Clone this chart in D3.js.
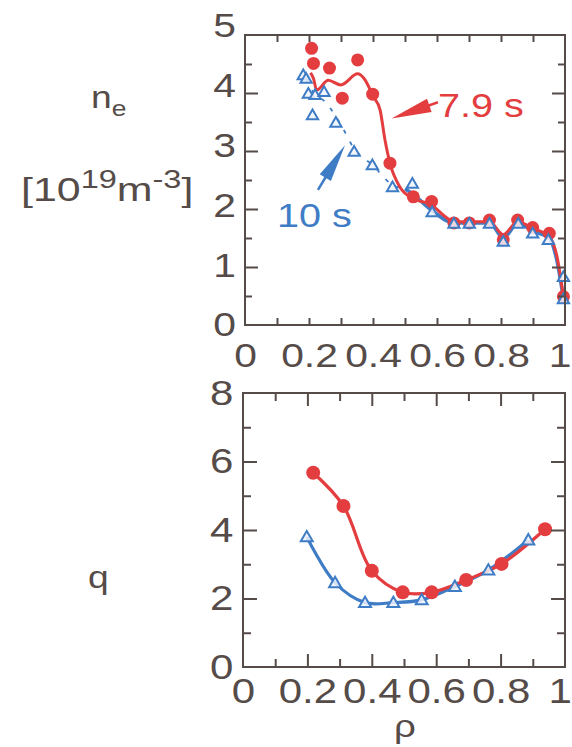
<!DOCTYPE html>
<html>
<head>
<meta charset="utf-8">
<script src="https://cdn.jsdelivr.net/npm/d3@7/dist/d3.min.js"></script>
<style>
  html, body { margin: 0; padding: 0; background: #ffffff; }
  svg { display: block; }
  text { font-family: "Liberation Sans", Arial, Helvetica, sans-serif; }
</style>
</head>
<body>
<svg id="chart" width="572" height="747"></svg>
<script>
// ---------------- data ----------------
// top panel: electron density n_e [10^19 m^-3] vs rho
const rhoNeRed = [0.208, 0.214, 0.264, 0.304, 0.352, 0.399, 0.453, 0.526, 0.583, 0.653, 0.701, 0.764, 0.807, 0.852, 0.899, 0.951, 0.995];
const neRed    = [4.77, 4.51, 4.43, 3.91, 4.57, 3.98, 2.79, 2.21, 2.13, 1.76, 1.76, 1.81, 1.47, 1.81, 1.68, 1.58, 0.49];

const rhoNeBlue = [0.182, 0.191, 0.198, 0.219, 0.247, 0.211, 0.284, 0.341, 0.398, 0.461, 0.523, 0.585, 0.653, 0.701, 0.764, 0.807, 0.854, 0.899, 0.948, 0.995, 0.995];
const neBlue    = [4.31, 4.25, 3.99, 3.97, 4.02, 3.62, 3.49, 2.99, 2.76, 2.38, 2.44, 1.95, 1.75, 1.75, 1.75, 1.44, 1.75, 1.58, 1.47, 0.83, 0.45];

// fitted curves (top panel)
const rhoNeRedFit = [0.205, 0.214, 0.224, 0.26, 0.30, 0.352, 0.372, 0.401, 0.422, 0.4375, 0.453, 0.484, 0.526, 0.583, 0.625, 0.653, 0.701, 0.764, 0.807, 0.852, 0.899, 0.951, 0.975, 0.995];
const neRedFit    = [4.35, 4.25, 4.05, 4.22, 4.14, 4.33, 4.25, 3.94, 3.71, 3.19, 2.79, 2.38, 2.18, 2.07, 1.87, 1.78, 1.78, 1.78, 1.56, 1.78, 1.67, 1.52, 1.18, 0.49];

const rhoNeBlueCoreFit = [0.19, 0.215, 0.25, 0.30, 0.34, 0.40, 0.46, 0.50];
const neBlueCoreFit    = [4.25, 4.0, 3.85, 3.45, 3.05, 2.75, 2.42, 2.35];
const rhoNeBlueEdgeFit = [0.50, 0.526, 0.585, 0.653, 0.701, 0.764, 0.807, 0.854, 0.899, 0.95, 0.975, 0.995];
const neBlueEdgeFit    = [2.35, 2.25, 1.97, 1.76, 1.76, 1.76, 1.50, 1.76, 1.62, 1.50, 1.10, 0.45];

// bottom panel: safety factor q vs rho
const rhoQRed = [0.218, 0.312, 0.400, 0.496, 0.586, 0.693, 0.803, 0.938];
const qRed    = [5.67, 4.70, 2.81, 2.18, 2.18, 2.54, 3.01, 4.02];
const rhoQBlue = [0.198, 0.286, 0.379, 0.467, 0.555, 0.658, 0.762, 0.886];
const qBlue    = [3.80, 2.46, 1.88, 1.88, 1.96, 2.35, 2.83, 3.71];

// tick labels
const xTickValues = [0, 0.2, 0.4, 0.6, 0.8, 1];
const xTickLabels = ["0", "0.2", "0.4", "0.6", "0.8", "1"];
const neTickValues = [0, 1, 2, 3, 4, 5];
const qTickValues = [0, 2, 4, 6, 8];

// annotations
const labelRed = "7.9 s";
const labelBlue = "10 s";

// ---------------- styling ----------------
const RED = "#e43d40";
const BLUE = "#3f7cc6";
const INK = "#554b48";
const SX = 1.2; // horizontal stretch of the lettering

const svg = d3.select("#chart");

function zip(xs, ys) { return xs.map((x, i) => [x, ys[i]]); }

function frameAndTicks(g, x, y, opt) {
  const [x0, x1] = x.range();
  const [y0, y1] = y.range();
  const axes = [
    {ax: d3.axisBottom(x), tr: `translate(0,${y0})`, sel: "bottom"},
    {ax: d3.axisTop(x), tr: `translate(0,${y1})`, sel: "top"},
    {ax: d3.axisLeft(y), tr: `translate(${x0},0)`, sel: "left"},
    {ax: d3.axisRight(y), tr: `translate(${x1},0)`, sel: "right"}
  ];
  axes.forEach(a => {
    const isX = a.sel === "bottom" || a.sel === "top";
    const minor = isX ? opt.xMinor : opt.yMinor;
    const major = isX ? opt.xMajor : opt.yMajor;
    const minorLen = isX ? opt.xMinorLen : opt.yMinorLen;
    const majorLen = isX ? opt.xMajorLen : opt.yMajorLen;
    g.append("g").attr("transform", a.tr)
      .call(a.ax.tickValues(minor).tickSizeInner(-minorLen).tickSizeOuter(0).tickFormat(""))
      .call(s => s.select(".domain").remove())
      .call(s => s.selectAll("line").attr("stroke", INK).attr("stroke-width", 2));
    g.append("g").attr("transform", a.tr)
      .call(a.ax.tickValues(major).tickSizeInner(-majorLen).tickSizeOuter(0).tickFormat(""))
      .call(s => s.select(".domain").remove())
      .call(s => s.selectAll("line").attr("stroke", INK).attr("stroke-width", 2));
  });
  g.append("rect")
    .attr("x", x0).attr("y", y1)
    .attr("width", x1 - x0).attr("height", y0 - y1)
    .attr("fill", "none").attr("stroke", INK).attr("stroke-width", 2);

  g.append("g").attr("transform", `translate(0,${y0})`)
    .call(d3.axisBottom(x).tickValues(xTickValues).tickSize(0).tickPadding(opt.xPad)
      .tickFormat((d, i) => xTickLabels[i]))
    .call(s => s.select(".domain").remove())
    .call(s => s.selectAll("text")
      .attr("font-size", opt.fs).attr("fill", INK)
      .attr("font-family", "Liberation Sans, Arial, sans-serif")
      .attr("x", d => d === 1 ? -4.5 : 0)
      .attr("transform", `scale(${SX},1)`));
  g.append("g").attr("transform", `translate(${x0},0)`)
    .call(d3.axisLeft(y).tickValues(opt.yLabels).tickSize(0).tickPadding(opt.yPad)
      .tickFormat(d3.format("d")))
    .call(s => s.select(".domain").remove())
    .call(s => s.selectAll("text")
      .attr("font-size", opt.fs).attr("fill", INK)
      .attr("font-family", "Liberation Sans, Arial, sans-serif")
      .attr("dy", d => opt.yDy(d))
      .attr("transform", `scale(${SX},1)`));
}

function stretchedText(g, x, y, str, size, color, anchor, sx) {
  return g.append("text")
    .attr("transform", `translate(${x},${y}) scale(${sx || SX},1)`)
    .attr("font-size", size).attr("fill", color)
    .attr("text-anchor", anchor || "start")
    .text(str);
}

// ---------------- top panel ----------------
const xTop = d3.scaleLinear().domain([0, 1]).range([245, 565]);
const yTop = d3.scaleLinear().domain([0, 5]).range([325, 35]);
const gTop = svg.append("g");

const lineTop = d3.line().x(d => xTop(d[0])).y(d => yTop(d[1])).curve(d3.curveMonotoneX);

gTop.append("path").datum(zip(rhoNeBlueCoreFit, neBlueCoreFit))
  .attr("d", lineTop).attr("fill", "none").attr("stroke", BLUE)
  .attr("stroke-width", 1.8).attr("stroke-dasharray", "4,9");
gTop.append("path").datum(zip(rhoNeBlueEdgeFit, neBlueEdgeFit))
  .attr("d", lineTop).attr("fill", "none").attr("stroke", BLUE)
  .attr("stroke-width", 3.5);
gTop.append("path").datum(zip(rhoNeRedFit, neRedFit))
  .attr("d", lineTop).attr("fill", "none").attr("stroke", RED)
  .attr("stroke-width", 3);

gTop.selectAll("circle.red").data(zip(rhoNeRed, neRed)).join("circle")
  .attr("class", "red")
  .attr("cx", d => xTop(d[0])).attr("cy", d => yTop(d[1]))
  .attr("r", 6.5).attr("fill", RED);

const triTop = d3.symbol().type(d3.symbolTriangle).size(55);
gTop.selectAll("path.blue").data(zip(rhoNeBlue, neBlue)).join("path")
  .attr("class", "blue")
  .attr("transform", d => `translate(${xTop(d[0])},${yTop(d[1]) + 1})`)
  .attr("d", triTop).attr("fill", "#eef3fb").attr("fill-opacity", 0.85)
  .attr("stroke", BLUE).attr("stroke-width", 2);

frameAndTicks(gTop, xTop, yTop, {
  xMinor: d3.range(1, 10).map(i => i / 10), xMajor: [],
  yMinor: [0.5, 1.5, 2.5, 3.5, 4.5],
  yMajor: [1, 2, 3, 4],
  xMinorLen: 7, xMajorLen: 7, yMinorLen: 7, yMajorLen: 13,
  yLabels: neTickValues, fs: 34, xPad: 18, yPad: 7.5,
  yDy: d => (0.32 - d * 0.055) + "em"
});

function arrow(g, tip, tail, headLen, headW, color) {
  const dx = tail[0] - tip[0], dy = tail[1] - tip[1];
  const L = Math.hypot(dx, dy), ux = dx / L, uy = dy / L;
  const bx = tip[0] + ux * headLen, by = tip[1] + uy * headLen;
  const px = -uy, py = ux;
  g.append("path")
    .attr("d", `M${tip[0]},${tip[1]} L${bx + px * headW / 2},${by + py * headW / 2} L${bx - px * headW / 2},${by - py * headW / 2} Z`)
    .attr("fill", color);
  g.append("line")
    .attr("x1", bx - ux * 2).attr("y1", by - uy * 2)
    .attr("x2", tail[0]).attr("y2", tail[1])
    .attr("stroke", color).attr("stroke-width", 2.5);
}
arrow(gTop, [xTop(0.458), yTop(3.56)], [xTop(0.603), yTop(3.84)], 40, 14, RED);
arrow(gTop, [xTop(0.3125), yTop(3.10)], [xTop(0.228), yTop(2.33)], 38, 13, BLUE);

stretchedText(gTop, xTop(0.603), yTop(3.59), labelRed, 33, RED);
stretchedText(gTop, xTop(0.10), yTop(1.69), labelBlue, 33, BLUE);

// y-axis title (top)
const tNe = svg.append("text")
  .attr("transform", `translate(91,108) scale(${SX},1)`)
  .attr("font-size", 31).attr("fill", INK);
tNe.append("tspan").text("n");
tNe.append("tspan").attr("dy", 8).attr("font-size", 22).text("e");

const tUnit = svg.append("text")
  .attr("transform", `translate(21,201) scale(1.3,1)`)
  .attr("font-size", 33).attr("fill", INK);
tUnit.append("tspan").text("[10");
tUnit.append("tspan").attr("dy", -13).attr("font-size", 25).text("19");
tUnit.append("tspan").attr("dy", 13).text("m");
tUnit.append("tspan").attr("dy", -13).attr("font-size", 25).text("-3");
tUnit.append("tspan").attr("dy", 13).text("]");

// ---------------- bottom panel ----------------
const xBot = d3.scaleLinear().domain([0, 1]).range([243, 565]);
const yBot = d3.scaleLinear().domain([0, 8]).range([667, 393]);
const gBot = svg.append("g");

const lineBot = d3.line().x(d => xBot(d[0])).y(d => yBot(d[1])).curve(d3.curveCatmullRom.alpha(0.5));

gBot.append("path").datum(zip(rhoQBlue, qBlue))
  .attr("d", lineBot).attr("fill", "none").attr("stroke", BLUE).attr("stroke-width", 3.2);
gBot.append("path").datum(zip(rhoQRed, qRed))
  .attr("d", lineBot).attr("fill", "none").attr("stroke", RED).attr("stroke-width", 3.2);

gBot.selectAll("circle.red").data(zip(rhoQRed, qRed)).join("circle")
  .attr("class", "red")
  .attr("cx", d => xBot(d[0])).attr("cy", d => yBot(d[1]))
  .attr("r", 7).attr("fill", RED);

const triBot = d3.symbol().type(d3.symbolTriangle).size(62);
gBot.selectAll("path.blue").data(zip(rhoQBlue, qBlue)).join("path")
  .attr("class", "blue")
  .attr("transform", d => `translate(${xBot(d[0])},${yBot(d[1]) + 1})`)
  .attr("d", triBot).attr("fill", "#eef3fb").attr("fill-opacity", 0.85)
  .attr("stroke", BLUE).attr("stroke-width", 2);

frameAndTicks(gBot, xBot, yBot, {
  xMinor: [0.1, 0.3, 0.5, 0.7, 0.9], xMajor: [0.2, 0.4, 0.6, 0.8],
  yMinor: [1, 3, 5, 7], yMajor: [2, 4, 6],
  xMinorLen: 8, xMajorLen: 13, yMinorLen: 8, yMajorLen: 14,
  yLabels: qTickValues, fs: 35, xPad: 11, yPad: 8,
  yDy: d => "0.32em"
});

// titles (bottom)
stretchedText(svg, 88, 588, "q", 31, INK);
stretchedText(svg, 405, 737, "ρ", 32, INK, "middle");
</script>
</body>
</html>
